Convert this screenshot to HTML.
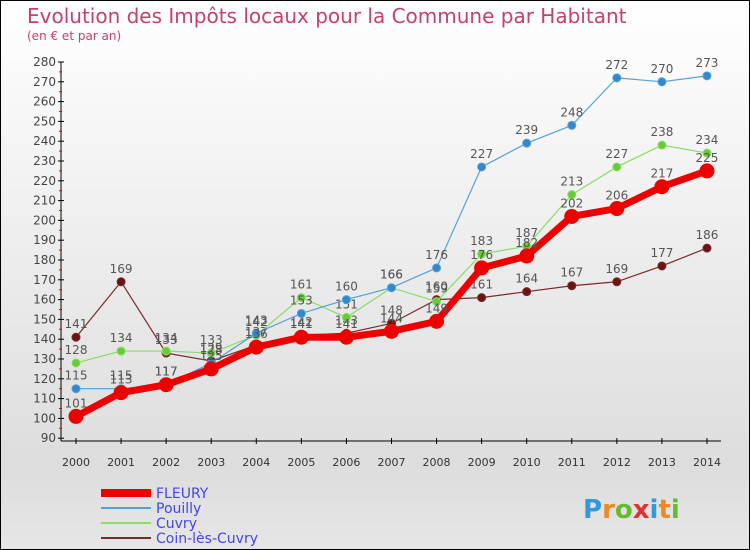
<!DOCTYPE html>
<html><head><meta charset="utf-8">
<style>
body{margin:0;}
#c{position:relative;width:748px;height:548px;border:1px solid #000;background:linear-gradient(#fff,#ddd 85%,#e6e6e6);font-family:"DejaVu Sans","Liberation Sans",sans-serif;overflow:hidden}
svg{position:absolute;left:0;top:0}
</style></head><body>
<div id="c">
<svg id="s" width="748" height="548">
<text x="26" y="22" font-size="20" fill="#c8406a">Evolution des Impôts locaux pour la Commune par Habitant</text>
<text x="26" y="39" font-size="12" fill="#c8406a">(en € et par an)</text>
</svg>
</div>
<script>
const years=[2000,2001,2002,2003,2004,2005,2006,2007,2008,2009,2010,2011,2012,2013,2014];
const fleury=[101,113,117,125,136,141,141,144,149,176,182,202,206,217,225];
const pouilly=[115,115,117,128,143,153,160,166,176,227,239,248,272,270,273];
const cuvry=[128,134,134,133,142,161,151,166,159,183,187,213,227,238,234];
const coin=[141,169,133,129,137,142,143,148,160,161,164,167,169,177,186];
const yTicks=[90,100,110,120,130,140,150,160,170,180,190,200,210,220,230,240,250,260,270,280];
const NS='http://www.w3.org/2000/svg';
const s=document.getElementById('s');
const X=i=>75+i*45.07, Y=v=>61+(280-v)*1.98;
function el(t,a,p){const e=document.createElementNS(NS,t);for(const k in a)e.setAttribute(k,a[k]);(p||s).appendChild(e);return e;}
const ax=el('g',{});
el('line',{x1:60,y1:61,x2:60,y2:440,stroke:'#000'},ax);
el('line',{x1:60,y1:440,x2:720,y2:440,stroke:'#000'},ax);
yTicks.forEach(v=>{el('line',{x1:57,y1:Y(v),x2:63,y2:Y(v),stroke:'#000'},ax);
 if(v<280)el('line',{x1:58,y1:Y(v+5),x2:61,y2:Y(v+5),stroke:'#e00'},ax);
 const t=el('text',{x:55,y:Y(v)+4,'text-anchor':'end','font-size':12,fill:'#444'},ax);t.textContent=v;
 });
years.forEach((y,i)=>{el('line',{x1:X(i),y1:437,x2:X(i),y2:443,stroke:'#000'},ax);
 const t=el('text',{x:X(i),y:465,'text-anchor':'middle','font-size':11,fill:'#333'},ax);t.textContent=y;
 });
function series(d,col,dot,w,r,name){const g=el('g',{});
 el('polyline',{points:d.map((v,i)=>X(i)+','+Y(v)).join(' '),fill:'none',stroke:col,'stroke-width':w},g);
 d.forEach((v,i)=>{const c=el('circle',{cx:X(i),cy:Y(v),r:r,fill:dot,stroke:col},g);
  const t=el('text',{x:X(i),y:Y(v)-9,'text-anchor':'middle','font-size':12,fill:'#555'},g);t.textContent=v;});}
series(coin,'#7a2a2a','#6b1414',1.2,4,'series-coin-les-cuvry');
series(cuvry,'#88dd66','#66cc33',1.2,4,'series-cuvry');
series(pouilly,'#55a0d8','#3388cc',1.2,4,'series-pouilly');
series(fleury,'#ee0000','#ee0000',7,7,'series-fleury');
const lg=[['FLEURY','#ee0000',8],['Pouilly','#55a0d8',2],['Cuvry','#88dd66',2],['Coin-lès-Cuvry','#7a2a2a',2]];
lg.forEach((l,i)=>{const g=el('g',{});
 const y=492+i*15;el('line',{x1:100,y1:y,x2:150,y2:y,stroke:l[1],'stroke-width':l[2]},g);
 const t=el('text',{x:155,y:y+5,'font-size':14,fill:'#4444ee'},g);t.textContent=l[0];});
const p=el('text',{x:582,y:517,'font-size':26,'font-weight':'bold',fill:'#3399dd'});

const cols=['#3399dd','#ee8822','#66bb33','#dd3333','#3399dd','#ee8822','#66bb33'];
'Proxiti'.split('').forEach((ch,i)=>{const ts=el('tspan',{fill:cols[i]},p);ts.textContent=ch;});
</script>
</body></html>
